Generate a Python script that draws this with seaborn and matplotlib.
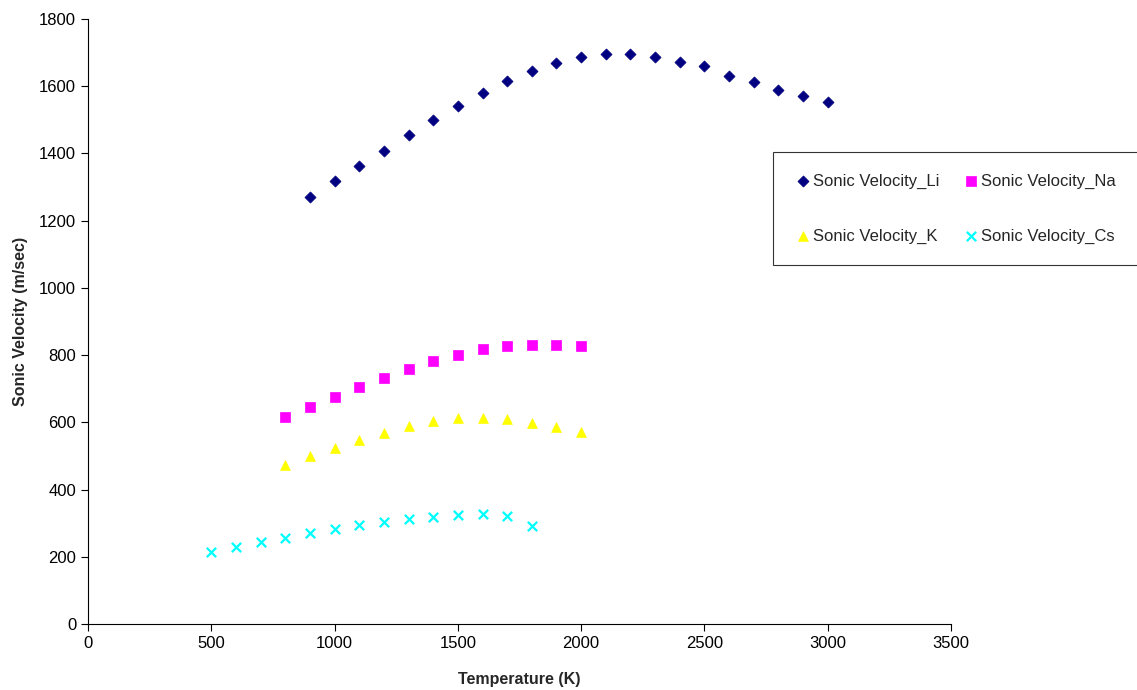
import pandas as pd
import matplotlib.pyplot as plt
import seaborn as sns

sns.set_style("white")
plt.rcParams['font.family'] = ['Liberation Sans', 'DejaVu Sans']

# Dados
temp_li = [900, 1000, 1100, 1200, 1300, 1400, 1500, 1600, 1700, 1800, 1900,
           2000, 2100, 2200, 2300, 2400, 2500, 2600, 2700, 2800, 2900, 3000]
vel_li = [1270, 1318, 1364, 1408, 1455, 1500, 1541, 1581, 1616, 1645, 1670,
          1686, 1695, 1695, 1686, 1671, 1661, 1630, 1611, 1590, 1570, 1552]

temp_na = [800, 900, 1000, 1100, 1200, 1300, 1400, 1500, 1600, 1700, 1800, 1900, 2000]
vel_na = [615, 645, 675, 704, 731, 758, 781, 801, 817, 827, 830, 830, 827]

temp_k = [800, 900, 1000, 1100, 1200, 1300, 1400, 1500, 1600, 1700, 1800, 1900, 2000]
vel_k = [474, 500, 524, 547, 569, 588, 604, 612, 614, 609, 598, 586, 571]

temp_cs = [500, 600, 700, 800, 900, 1000, 1100, 1200, 1300, 1400, 1500, 1600, 1700, 1800]
vel_cs = [215, 230, 244, 257, 270, 282, 293, 303, 312, 318, 324, 326, 320, 291]

series = [
    ('Sonic Velocity_Li', temp_li, vel_li, 'D', '#000080', 32),
    ('Sonic Velocity_Na', temp_na, vel_na, 's', '#FF00FF', 45),
    ('Sonic Velocity_K', temp_k, vel_k, '^', '#FFFF00', 50),
    ('Sonic Velocity_Cs', temp_cs, vel_cs, 'x', '#00FFFF', 45),
]

fig = plt.figure(figsize=(11.37, 6.9), dpi=100)
ax = fig.add_axes([0.0774, 0.0957, 0.7590, 0.8768])

for nome, x, y, marcador, cor, tam in series:
    df = pd.DataFrame({'Temperatura': x, 'Velocidade': y})
    if marcador == 'x':
        sns.scatterplot(data=df, x='Temperatura', y='Velocidade', ax=ax,
                        marker=marcador, color=cor, s=tam, linewidth=1.6,
                        label=nome)
    else:
        sns.scatterplot(data=df, x='Temperatura', y='Velocidade', ax=ax,
                        marker=marcador, color=cor, s=tam, edgecolor=cor,
                        linewidth=0.5, label=nome)

ax.set_xlim(0, 3500)
ax.set_ylim(0, 1800)
ax.set_xticks(range(0, 3501, 500))
ax.set_yticks(range(0, 1801, 200))
ax.spines['top'].set_visible(False)
ax.spines['right'].set_visible(False)
for s in ['left', 'bottom']:
    ax.spines[s].set_color('black')
    ax.spines[s].set_linewidth(0.8)
ax.tick_params(axis='both', direction='out', length=5, width=0.8,
               labelsize=12, colors='black', bottom=True, left=True)

ax.set_xlabel('Temperature (K)', fontsize=11.5, weight='bold', labelpad=15)
ax.set_ylabel('Sonic Velocity (m/sec)', fontsize=11.5, weight='bold', labelpad=8)

# ordem da legenda: Li, Na na primeira linha; K, Cs na segunda
handles, labels = ax.get_legend_handles_labels()
ordem = [0, 2, 1, 3]
leg = ax.legend([handles[i] for i in ordem], [labels[i] for i in ordem],
                loc='upper left', bbox_to_anchor=(0.68, 0.78),
                bbox_transform=fig.transFigure, ncol=2, frameon=True,
                fancybox=False, edgecolor='black', fontsize=12,
                labelspacing=2.4, borderpad=1.3, handletextpad=0.1,
                columnspacing=1.4, handlelength=1.0, borderaxespad=0)
leg.get_frame().set_linewidth(0.8)

fig.savefig('out.png', dpi=100)
